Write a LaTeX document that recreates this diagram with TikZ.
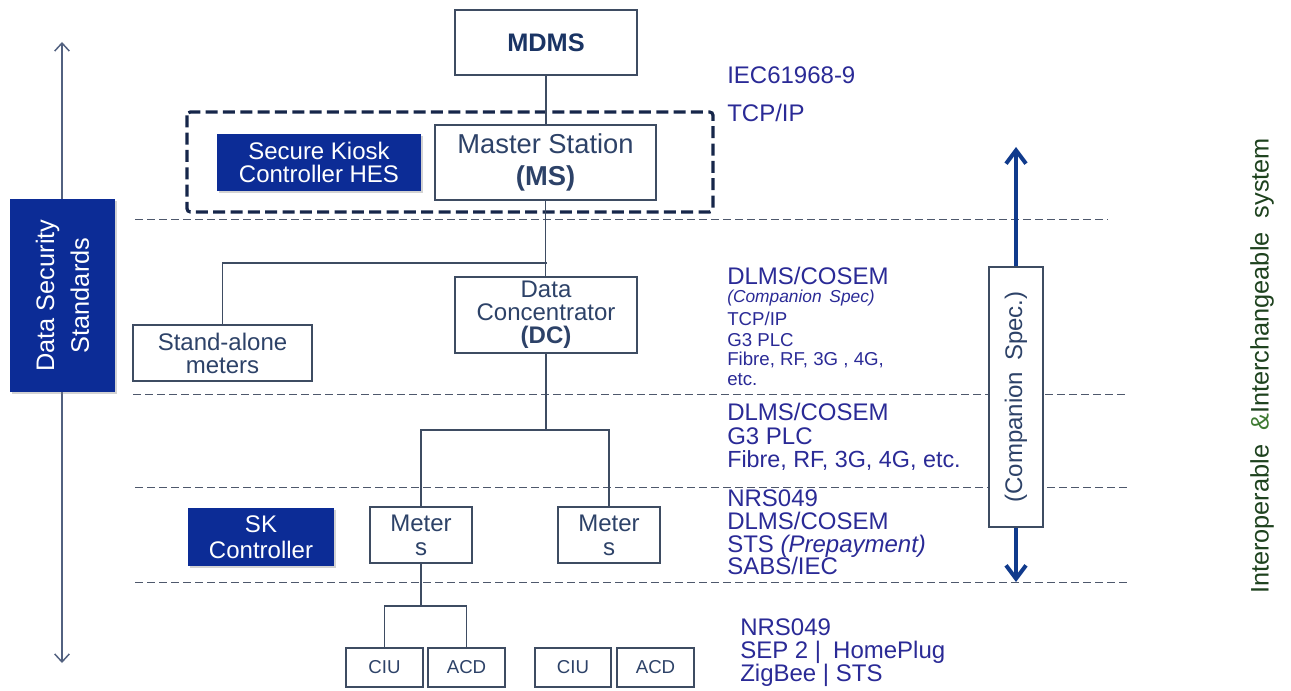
\documentclass[tikz,border=0pt]{standalone}
\usepackage{fontspec}
\setmainfont{Liberation Sans}
\usetikzlibrary{arrows.meta,shadows}

\definecolor{navyfill}{RGB}{12,44,150}
\definecolor{boxline}{RGB}{62,76,98}
\definecolor{boxtext}{RGB}{45,66,104}
\definecolor{titletext}{RGB}{26,52,100}
\definecolor{labelblue}{RGB}{42,42,150}
\definecolor{rulegray}{RGB}{78,88,108}
\definecolor{kioskdash}{RGB}{22,38,74}
\definecolor{spinearrow}{RGB}{16,58,140}
\definecolor{thinarrow}{RGB}{82,97,128}
\definecolor{darkgreen}{RGB}{30,66,30}
\definecolor{midgreen}{RGB}{62,122,50}

\newcommand\fs[2]{\fontsize{#1}{#2}\selectfont}

\begin{document}
\begin{tikzpicture}[x=0.75pt,y=-0.75pt,
  box/.style n args={2}{draw=boxline, line width=0.9pt, fill=white,
    minimum width=#1*0.75pt, minimum height=#2*0.75pt, inner sep=0pt,
    align=center, text=boxtext, font=\fs{18}{17.3}},
  solidbox/.style n args={2}{box={#1}{#2}, draw=none, fill=navyfill, text=white,
    drop shadow={opacity=0.35, shadow xshift=1.2pt, shadow yshift=-1.2pt}},
  link/.style={draw=boxline, line width=1pt},
  rule/.style={draw=rulegray, line width=0.75pt, dash pattern=on 6pt off 3pt},
  kiosk/.style={draw=kioskdash, line width=2.4pt, dash pattern=on 9pt off 4pt, rounded corners=2.5pt},
  spine/.style={draw=spinearrow, line width=3pt, -{Straight Barb[length=10pt,width=15pt,line width=3pt]}},
  sidearrow/.style={draw=thinarrow, line width=1.1pt,
    {Straight Barb[length=6pt,width=11pt]}-{Straight Barb[length=6pt,width=11pt]}},
  lab/.style={anchor=base west, inner sep=0pt, text=labelblue, font=\fs{18}{20}},
  labsmall/.style={lab, font=\fs{14}{16}},
]
\useasboundingbox (0,0) rectangle (1291,691);

% layer separators
\draw[rule] (135,220) -- (1108,220);
\draw[rule] (133,394) -- (1127,394);
\draw[rule] (135,487) -- (1127,487);
\draw[rule] (135,582) -- (1127,582);

% security scope arrow behind the standards bar
\coordinate (secTop) at (62,42);
\coordinate (secBot) at (62,663);
\draw[sidearrow] (secBot) -- (secTop);

% head-end group
\draw[kiosk] (187,112) rectangle (713,212);

% nodes
\node[box={182}{65}, text=titletext, font=\bfseries\fs{19}{20}] (mdms) at (546,42.5) {MDMS};
\node[box={221}{75}, font=\fs{20.5}{24}] (ms) at (545.5,162.5) {Master Station\\\textbf{(MS)}};
\node[solidbox={204}{57}] (skc) at (319,162.5) {Secure Kiosk\\Controller HES};
\node[box={182}{76}] (dc) at (546,315) {Data\\Concentrator\\\textbf{(DC)}};
\node[box={179}{56}] (sam) at (222.5,353) {Stand-alone\\meters};
\node[box={102}{56}, font=\fs{18}{18}] (m1) at (421,535) {Meter\\s};
\node[box={102}{56}, font=\fs{18}{18}] (m2) at (609,535) {Meter\\s};
\node[solidbox={146}{58}, font=\fs{18}{19.5}] (skctl) at (261,537) {SK\\Controller};
\node[box={77}{39}, font=\fs{14}{16}] (ciu1) at (384.5,667.5) {CIU};
\node[box={77}{39}, font=\fs{14}{16}] (acd1) at (466.5,667.5) {ACD};
\node[box={76}{39}, font=\fs{14}{16}] (ciu2) at (573,667.5) {CIU};
\node[box={77}{39}, font=\fs{14}{16}] (acd2) at (655.5,667.5) {ACD};
\node[solidbox={193}{105}, rotate=90, font=\fs{19}{26}, drop shadow={opacity=0}] (dss) at (62.5,295.5) {Data Security\\Standards};
\node[box={260}{54}, rotate=90, font=\fs{18}{20}] (comp) at (1016,397) {(Companion\hspace{0.45em}Spec.)};

% connectors
\draw[link] (mdms.south) -- (mdms.south |- ms.north);
\draw[link] (ms.south) -- (ms.south |- dc.north);
\coordinate (j1) at (547,263);
\draw[link] (j1) -| (sam.north);
\coordinate (j2) at (546,430);
\draw[link] (dc.south) -- (j2);
\draw[link] (m1.north) |- (j2) -| (m2.north);
\coordinate (j3) at (421,606);
\draw[link] (m1.south) -- (j3);
\draw[link] (ciu1.north) |- (j3) -| (acd1.north);

% companion specification span
\coordinate (cTop) at (1016,147);
\coordinate (cBot) at (1016,582);
\draw[spine] (comp.east) -- (cTop);
\draw[spine] (comp.west) -- (cBot);

% protocol labels
\node[lab] (lIEC) at (727,84) {IEC61968-9};
\node[lab] (lTCP) at (727,122) {TCP/IP};

\node[lab] (lDLMSa) at (727,284.5) {DLMS/COSEM};
\node[labsmall, font=\itshape\fs{13}{15}] (lComp) at (727,303) {(Companion\hspace{0.45em}Spec)};
\node[labsmall] (lTCPb) at (727,325.5) {TCP/IP};
\node[labsmall] (lG3a) at (727,346) {G3 PLC};
\node[labsmall] (lFibA) at (727,365.5) {Fibre, RF, 3G , 4G,};
\node[labsmall] (lEtc) at (727,385) {etc.};

\node[lab] (lDLMSb) at (727,420.5) {DLMS/COSEM};
\node[lab] (lG3b) at (727,444.5) {G3 PLC};
\node[lab, font=\fs{17.5}{20}] (lFibB) at (727,467.5) {Fibre, RF, 3G, 4G, etc.};

\node[lab] (lNRSa) at (727,506.5) {NRS049};
\node[lab] (lDLMSc) at (727,529.5) {DLMS/COSEM};
\node[lab] (lSTS) at (727,552) {STS \textit{(Prepayment)}};
\node[lab] (lSABS) at (727,574) {SABS/IEC};

\node[lab] (lNRSb) at (740,635) {NRS049};
\node[lab] (lSEP) at (740,658) {SEP 2 |\hspace{0.5em}HomePlug};
\node[lab] (lZig) at (740,681) {ZigBee | STS};

% system property
\node[rotate=90, inner sep=0pt, text=darkgreen, font=\fs{19}{20}] (sys) at (1262,366)
  {Interoperable\hspace{0.55em}{\color{midgreen}\&}Interchangeable\hspace{0.55em}system};
\end{tikzpicture}
\end{document}
